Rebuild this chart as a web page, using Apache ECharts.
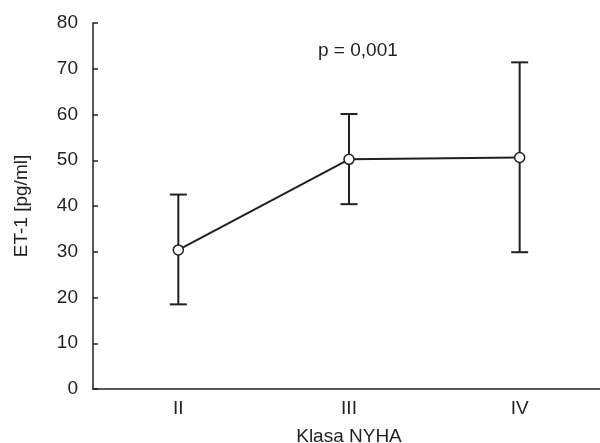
<!DOCTYPE html>
<html>
<head>
<meta charset="utf-8">
<script src="https://cdn.jsdelivr.net/npm/echarts@6/dist/echarts.min.js"></script>
<style>
  html, body { margin: 0; padding: 0; background: #fff; }
  #chart { width: 600px; height: 443px; }
</style>
</head>
<body>
<div id="chart"></div>
<script>
// NYHA classes and ET-1 values
const classes = ['II', 'III', 'IV'];
const means = [30.4, 50.2, 50.6];
const lower = [18.5, 40.4, 29.9];
const upper = [42.5, 60.1, 71.4];
const yTicks = [0, 10, 20, 30, 40, 50, 60, 70, 80];

const ink = '#231f20';
const font = '"Liberation Sans", Arial, sans-serif';

const chart = echarts.init(document.getElementById('chart'));

const errData = classes.map((c, i) => [i, lower[i], upper[i]]);

chart.setOption({
  animation: false,
  grid: { left: 93, right: -5, top: 23, bottom: 54, outerBoundsMode: 'none', containLabel: false },
  xAxis: {
    type: 'category',
    data: classes,
    boundaryGap: true,
    name: 'Klasa NYHA',
    nameLocation: 'middle',
    nameGap: 38,
    nameTextStyle: { fontFamily: font, fontSize: 19, color: ink },
    axisLine: { lineStyle: { color: ink, width: 1.5 } },
    axisTick: { inside: true, alignWithLabel: true, length: 4, lineStyle: { color: ink, width: 1.5 } },
    axisLabel: { fontFamily: font, fontSize: 19, color: ink, margin: 10 },
    splitLine: { show: false }
  },
  yAxis: {
    type: 'value',
    min: yTicks[0],
    max: yTicks[yTicks.length - 1],
    interval: 10,
    name: 'ET-1 [pg/ml]',
    nameLocation: 'middle',
    nameGap: 62,
    nameTextStyle: { fontFamily: font, fontSize: 19, color: ink },
    axisLine: { show: true, lineStyle: { color: ink, width: 1.5 } },
    axisTick: { show: true, inside: true, length: 5, lineStyle: { color: ink, width: 1.5 } },
    axisLabel: { fontFamily: font, fontSize: 19, color: ink, margin: 15 },
    splitLine: { show: false }
  },
  graphic: [{
    type: 'text',
    left: 318,
    top: 41,
    style: { text: 'p = 0,001', fontFamily: font, fontSize: 19, fill: ink }
  }],
  series: [
    {
      type: 'custom',
      data: errData,
      z: 2,
      renderItem: function (params, api) {
        const lo = api.coord([api.value(0), api.value(1)]);
        const hi = api.coord([api.value(0), api.value(2)]);
        const half = 8.5;
        const style = { stroke: ink, lineWidth: 2 };
        return {
          type: 'group',
          children: [
            { type: 'line', shape: { x1: hi[0], y1: hi[1], x2: lo[0], y2: lo[1] }, style: style },
            { type: 'line', shape: { x1: hi[0] - half, y1: hi[1], x2: hi[0] + half, y2: hi[1] }, style: style },
            { type: 'line', shape: { x1: lo[0] - half, y1: lo[1], x2: lo[0] + half, y2: lo[1] }, style: style }
          ]
        };
      }
    },
    {
      type: 'line',
      data: means,
      z: 3,
      symbol: 'circle',
      symbolSize: 10,
      lineStyle: { color: ink, width: 2 },
      itemStyle: { color: '#fff', borderColor: ink, borderWidth: 1.5 }
    }
  ]
});
</script>
</body>
</html>
